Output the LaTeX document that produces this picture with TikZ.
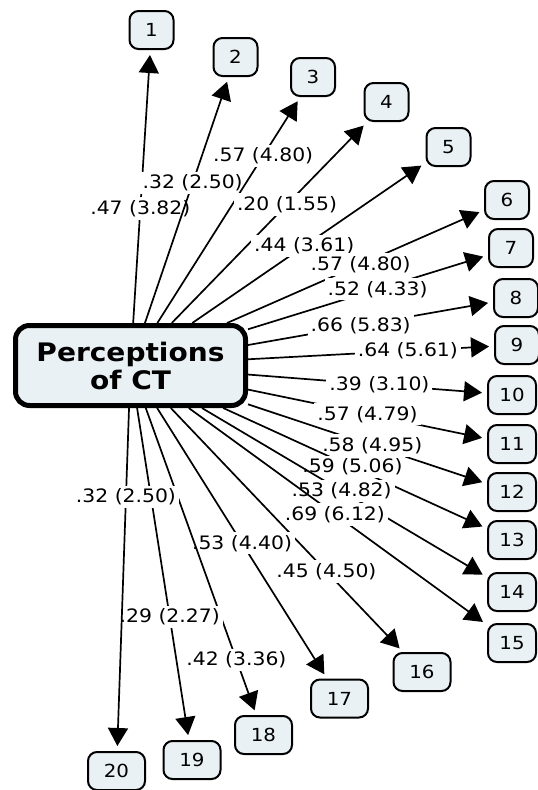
\documentclass[tikz,border=0pt]{standalone}
\usepackage{fontspec}
\setmainfont{DejaVu Sans}[FakeStretch=1.1]
\usepackage{tikz}
\usetikzlibrary{arrows.meta}
\definecolor{boxfill}{RGB}{234,241,245}

\begin{document}
\begin{tikzpicture}[
			x=1pt, y=-1pt,
			>={Triangle[length=18pt,width=20pt]},
			core/.style={draw, line width=5pt, rounded corners=14pt, fill=boxfill, align=center, minimum width=230pt, minimum height=80pt, font=\fontsize{25.5}{28}\selectfont\bfseries},
			numbox/.style={draw, line width=2pt, rounded corners=9pt, fill=boxfill, minimum width=44pt, minimum height=38pt, inner sep=2pt, font=\fontsize{18}{20}\selectfont},
			numboxr/.style={numbox, minimum width=48pt},
			numboxb/.style={numbox, minimum width=57pt},
			flow/.style={->, line width=1.7pt, shorten >=5pt},
			coef/.style={fill=white, inner sep=3pt, font=\fontsize{18.5}{20}\selectfont}
			]
			\useasboundingbox (0,0) rectangle (538,790);
			\node[core] (ct) at (130.5,365.5) {Perceptions\\of CT};
			
			\node[numbox] (n1) at (151.5,30) {1};
			\node[numbox] (n2) at (235.5,57) {2};
			\node[numbox] (n3) at (313,77) {3};
			\node[numbox] (n4) at (386.5,102) {4};
			\node[numbox] (n5) at (448.5,147) {5};
			\node[numbox] (n6) at (507,200) {6};
			\node[numbox] (n7) at (511,248) {7};
			\node[numbox] (n8) at (516,298) {8};
			\node[numbox] (n9) at (517,345) {9};
			\node[numboxr] (n10) at (512,395) {10};
			\node[numboxr] (n11) at (512,444) {11};
			\node[numboxr] (n12) at (512,492) {12};
			\node[numboxr] (n13) at (512,540) {13};
			\node[numboxr] (n14) at (512,592) {14};
			\node[numboxr] (n15) at (512,643) {15};
			\node[numboxb] (n16) at (422,672) {16};
			\node[numboxb] (n17) at (339.5,698.5) {17};
			\node[numboxb] (n18) at (263.5,735) {18};
			\node[numboxb] (n19) at (192,760) {19};
			\node[numboxb] (n20) at (116.5,771) {20};
			
			\draw[flow] (ct) -- node[coef, pos=.42]{.47 (3.82)} (n1);
			\draw[flow] (ct) -- node[coef, pos=.57]{.32 (2.50)} (n2);
			\draw[flow] (ct) -- node[coef, pos=.74]{.57 (4.80)} (n3);
			\draw[flow] (ct) -- node[coef, pos=.59]{.20 (1.55)} (n4);
			\draw[flow] (ct) -- node[coef, pos=.48]{.44 (3.61)} (n5);
			\draw[flow] (ct) -- node[coef, pos=.52]{.57 (4.80)} (n6);
			\draw[flow] (ct) -- node[coef, pos=.54]{.52 (4.33)} (n7);
			\draw[flow] (ct) -- node[coef, pos=.46]{.66 (5.83)} (n8);
			\draw[flow] (ct) -- node[coef, pos=.65]{.64 (5.61)} (n9);
			\draw[flow] (ct) -- node[coef, pos=.55]{.39 (3.10)} (n10);
			\draw[flow] (ct) -- node[coef, pos=.50]{.57 (4.79)} (n11);
			\draw[flow] (ct) -- node[coef, pos=.52]{.58 (4.95)} (n12);
			\draw[flow] (ct) -- node[coef, pos=.49]{.59 (5.06)} (n13);
			\draw[flow] (ct) -- node[coef, pos=.49]{.53 (4.82)} (n14);
			\draw[flow] (ct) -- node[coef, pos=.49]{.69 (6.12)} (n15);
			\draw[flow] (ct) -- node[coef, pos=.67]{.45 (4.50)} (n16);
			\draw[flow] (ct) -- node[coef, pos=.50]{.53 (4.40)} (n17);
			\draw[flow] (ct) -- node[coef, pos=.82]{.42 (3.36)} (n18);
			\draw[flow] (ct) -- node[coef, pos=.63]{.29 (2.27)} (n19);
			\draw[flow] (ct) -- node[coef, pos=.26]{.32 (2.50)} (n20);
		\end{tikzpicture}
\end{document}
